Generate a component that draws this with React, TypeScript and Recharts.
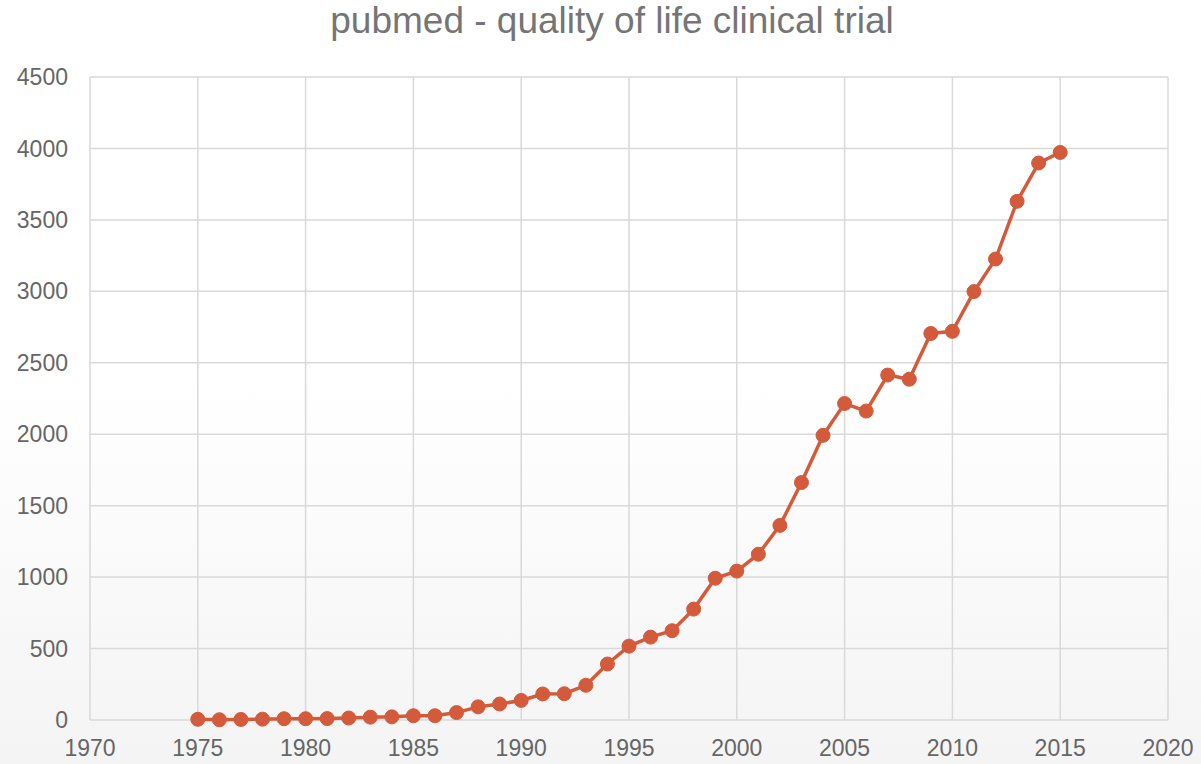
import { CartesianGrid, Line, LineChart, XAxis, YAxis } from "recharts";

const years = [
  1975, 1976, 1977, 1978, 1979, 1980, 1981, 1982, 1983, 1984, 1985, 1986, 1987,
  1988, 1989, 1990, 1991, 1992, 1993, 1994, 1995, 1996, 1997, 1998, 1999, 2000,
  2001, 2002, 2003, 2004, 2005, 2006, 2007, 2008, 2009, 2010, 2011, 2012, 2013,
  2014, 2015,
];
const counts = [
  5, 2, 4, 6, 9, 9, 10, 14, 20, 22, 30, 30, 52, 92, 112, 137, 182, 184, 243,
  392, 517, 580, 625, 776, 992, 1042, 1160, 1362, 1662, 1992, 2215, 2162, 2414,
  2385, 2705, 2720, 2998, 3226, 3630, 3898, 3972,
];
const xTicks = [1970, 1975, 1980, 1985, 1990, 1995, 2000, 2005, 2010, 2015, 2020];
const yTicks = [0, 500, 1000, 1500, 2000, 2500, 3000, 3500, 4000, 4500];

const data = years.map((year, i) => ({ year, count: counts[i] }));

const lineColor = "#D35B3B";
const font = "'Liberation Sans', Arial, sans-serif";

export default function App() {
  return (
    <div
      style={{
        position: "absolute",
        left: 0,
        top: 0,
        width: 1201,
        height: 764,
        fontFamily: font,
        background:
          "linear-gradient(to bottom, #ffffff 0%, #ffffff 50%, #f4f4f4 100%)",
        overflow: "hidden",
      }}
    >
      {/* titulo */}
      <div
        style={{
          position: "absolute",
          top: 0,
          left: 0,
          width: 1224,
          textAlign: "center",
          fontSize: 37,
          color: "#757575",
        }}
      >
        pubmed - quality of life clinical trial
      </div>

      <LineChart
        width={1201}
        height={764}
        data={data}
        margin={{ top: 77, right: 33, left: 0, bottom: 0 }}
      >
        <CartesianGrid stroke="#d9d9d9" strokeWidth={1.5} />
        <XAxis
          dataKey="year"
          type="number"
          domain={[1970, 2020]}
          ticks={xTicks}
          axisLine={false}
          tickLine={false}
          tickSize={0}
          tickMargin={20}
          height={44}
          interval={0}
          tick={{ fill: "#666666", fontSize: 23, fontFamily: font }}
        />
        <YAxis
          domain={[0, 4500]}
          ticks={yTicks}
          axisLine={false}
          tickLine={false}
          tickSize={0}
          tickMargin={22}
          width={90}
          interval={0}
          tick={{ fill: "#666666", fontSize: 23, fontFamily: font }}
        />
        <Line
          type="linear"
          dataKey="count"
          stroke={lineColor}
          strokeWidth={3.5}
          dot={{ r: 7, fill: lineColor, stroke: lineColor, strokeWidth: 1 }}
          isAnimationActive={false}
        />
      </LineChart>
    </div>
  );
}
